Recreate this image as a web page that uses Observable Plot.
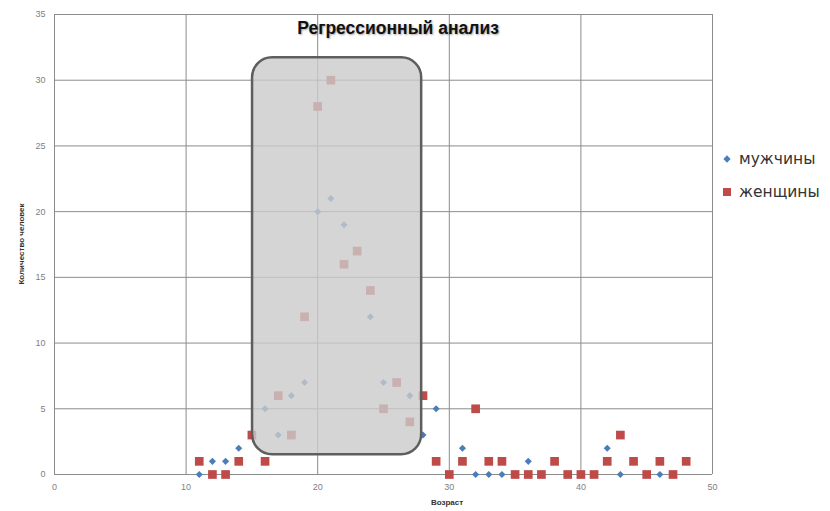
<!DOCTYPE html>
<html>
<head>
<meta charset="utf-8">
<script src="https://cdn.jsdelivr.net/npm/d3@7"></script>
<script src="https://cdn.jsdelivr.net/npm/@observablehq/plot@0.6"></script>
<style>
  body { margin: 0; background: #fff; }
  #chart { position: relative; width: 830px; height: 511px; overflow: hidden; }
  #chart > svg { position: absolute; left: 0; top: 0; }
  .title {
    position: absolute; left: 398px; top: 18px; transform: translateX(-50%);
    font: bold 17.5px "Liberation Sans", sans-serif; color: #111; white-space: nowrap;
    text-shadow: 1px 1px 2px rgba(0,0,0,0.35);
  }
  .xlabel {
    position: absolute; left: 447px; top: 498px; transform: translateX(-50%);
    font: bold 8px "Liberation Sans", sans-serif; color: #333; white-space: nowrap;
  }
  .ylabel {
    position: absolute; left: 21px; top: 244px; transform: translate(-50%, -50%) rotate(-90deg);
    font: bold 8px "Liberation Sans", sans-serif; color: #333; white-space: nowrap;
  }
  .legend { position: absolute; left: 721px; top: 142px; font: 15.5px "DejaVu Sans", sans-serif; color: #333; }
  .legend .row { display: flex; align-items: center; height: 33px; white-space: nowrap; }
  .legend .row svg { display: block; margin-right: 6px; }
</style>
</head>
<body>
<div id="chart"></div>
<script>
// Ages and head counts, men
const menAge   = [11, 12, 13, 14, 16, 17, 18, 19, 20, 21, 22, 24, 25, 27, 28, 29, 31, 32, 33, 34, 36, 42, 43, 46];
const menCount = [ 0,  1,  1,  2,  5,  3,  6,  7, 20, 21, 19, 12,  7,  6,  3,  5,  2,  0,  0,  0,  1,  2,  0,  0];

// Ages and head counts, women
const womenAge   = [11, 12, 13, 14, 15, 16, 17, 18, 19, 20, 21, 22, 23, 24, 25, 26, 27, 28, 29, 30, 31, 32, 33, 34, 35, 36, 37, 38, 39, 40, 41, 42, 43, 44, 45, 46, 47, 48];
const womenCount = [ 1,  0,  0,  1,  3,  1,  6,  3, 12, 28, 30, 16, 17, 14,  5,  7,  4,  6,  1,  0,  1,  5,  1,  1,  0,  0,  0,  1,  0,  0,  0,  1,  3,  1,  0,  1,  0,  1];

const xTicks = [0, 10, 20, 30, 40, 50];
const yTicks = [0, 5, 10, 15, 20, 25, 30, 35];

const seriesNames = ["мужчины", "женщины"];
const seriesColors = ["#4a7ebb", "#be4b48"];

// Highlighted age band (in data units)
const bandAge = [15.05, 27.9];
const bandCount = [1.5, 31.7];

const men = menAge.map((a, i) => ({age: a, count: menCount[i]}));
const women = womenAge.map((a, i) => ({age: a, count: womenCount[i]}));
const band = [{x1: bandAge[0], x2: bandAge[1], y1: bandCount[0], y2: bandCount[1]}];

const plot = Plot.plot({
  width: 830,
  height: 511,
  marginLeft: 54,
  marginRight: 118,
  marginTop: 14,
  marginBottom: 37,
  x: {domain: [0, 50]},
  y: {domain: [0, 35]},
  style: {fontFamily: "Liberation Sans, sans-serif", fontSize: "9px", color: "#7a7a7a", background: "transparent"},
  marks: [
    Plot.gridX(xTicks, {stroke: "#8c8c8c", strokeOpacity: 1}),
    Plot.gridY(yTicks, {stroke: "#8c8c8c", strokeOpacity: 1}),
    Plot.axisX(xTicks, {tickSize: 0, tickPadding: 9, label: null, fill: "#808080"}),
    Plot.axisY(yTicks, {tickSize: 0, tickPadding: 9, label: null, fill: "#808080"}),
    Plot.ruleX([0], {stroke: "#8c8c8c"}),
    Plot.ruleY([0], {stroke: "#8c8c8c"}),
    Plot.dot(men, {x: "age", y: "count", symbol: "diamond2", r: 3.2, fill: seriesColors[0], stroke: null}),
    Plot.dot(women, {x: "age", y: "count", symbol: "square", r: 4.9, fill: seriesColors[1], stroke: null}),
    Plot.rect(band, {x1: "x1", x2: "x2", y1: "y1", y2: "y2", rx: 20,
      fill: "#cacaca", fillOpacity: 0.8, stroke: "#5e5e5e", strokeWidth: 2.5})
  ]
});

const chart = document.getElementById("chart");
chart.appendChild(plot);

const title = document.createElement("div");
title.className = "title";
title.textContent = "Регрессионный анализ";
chart.appendChild(title);

const xl = document.createElement("div");
xl.className = "xlabel";
xl.textContent = "Возраст";
chart.appendChild(xl);

const yl = document.createElement("div");
yl.className = "ylabel";
yl.textContent = "Количество человек";
chart.appendChild(yl);

// Legend
const legend = document.createElement("div");
legend.className = "legend";
const symbols = [d3.symbolDiamond2, d3.symbolSquare];
const sizes = [34, 64];
seriesNames.forEach((name, i) => {
  const row = document.createElement("div");
  row.className = "row";
  const s = d3.create("svg").attr("width", 12).attr("height", 12);
  s.append("path")
    .attr("transform", "translate(6,6)")
    .attr("d", d3.symbol(symbols[i], sizes[i])())
    .attr("fill", seriesColors[i]);
  row.appendChild(s.node());
  const t = document.createElement("span");
  t.textContent = name;
  row.appendChild(t);
  legend.appendChild(row);
});
chart.appendChild(legend);
</script>
</body>
</html>
